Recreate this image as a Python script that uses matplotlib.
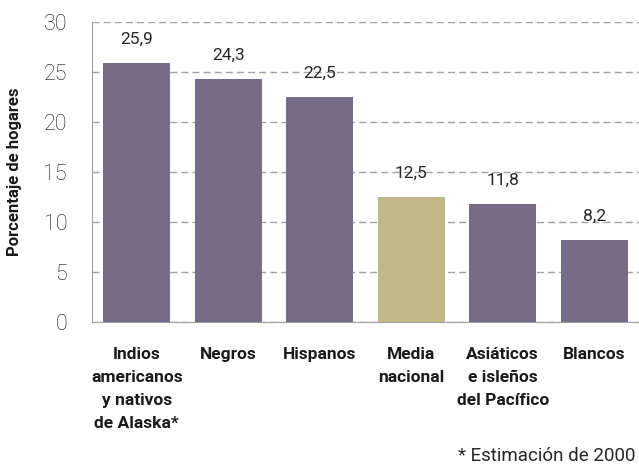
import matplotlib.pyplot as plt
from matplotlib import font_manager

# font: Roboto if available, else plain sans
names = {f.name for f in font_manager.fontManager.ttflist}
base = 'Roboto' if 'Roboto' in names else 'DejaVu Sans'
plt.rcParams['font.family'] = [base, 'DejaVu Sans']

categories = ['Indios\namericanos\ny nativos\nde Alaska*', 'Negros', 'Hispanos',
              'Media\nnacional', 'Asiáticos\ne isleños\ndel Pacífico', 'Blancos']
values = [25.9, 24.3, 22.5, 12.5, 11.8, 8.2]
labels = ['25,9', '24,3', '22,5', '12,5', '11,8', '8,2']
colors = ['#776c87', '#776c87', '#776c87', '#c0b886', '#776c87', '#776c87']

fig = plt.figure(figsize=(6.39, 4.69), dpi=100)
ax = fig.add_axes([0.144, 0.313, 0.856, 0.64])

x = range(len(values))
ax.bar(x, values, width=0.73, color=colors, zorder=3)
for i, (v, t) in enumerate(zip(values, labels)):
    ax.text(i, v + 1.6, t, ha='center', va='bottom', fontsize=12.5,
            color='#262626')

ax.set_xlim(-0.49, 5.49)
ax.set_ylim(0, 30)
ax.set_yticks(range(0, 31, 5))
for lab in ax.get_yticklabels():
    lab.set_fontweight('light')
ax.tick_params(axis='y', labelsize=15.5, colors='#111111', length=0, pad=18)
ax.yaxis.grid(True, linestyle=(0, (5, 3)), color='#a0a0a0', linewidth=1.0, zorder=0)
ax.set_xticks(list(x))
ax.set_xticklabels(categories, fontsize=12.5, fontweight='bold', color='#1a1a1a',
                   va='top', linespacing=1.65)
ax.tick_params(axis='x', length=0, pad=18)
for s in ['top', 'right']:
    ax.spines[s].set_visible(False)
ax.spines['left'].set_color('#a0a0a0')
ax.spines['bottom'].set_color('#a0a0a0')

ax.set_ylabel('Porcentaje de hogares', fontsize=12, fontweight='bold', color='#1a1a1a')
ax.yaxis.set_label_coords(-0.128, 0.5)

fig.text(0.995, 0.017, '* Estimación de 2000', ha='right', va='baseline',
         fontsize=13.5, color='#262626')

fig.savefig('out.png', dpi=100)
